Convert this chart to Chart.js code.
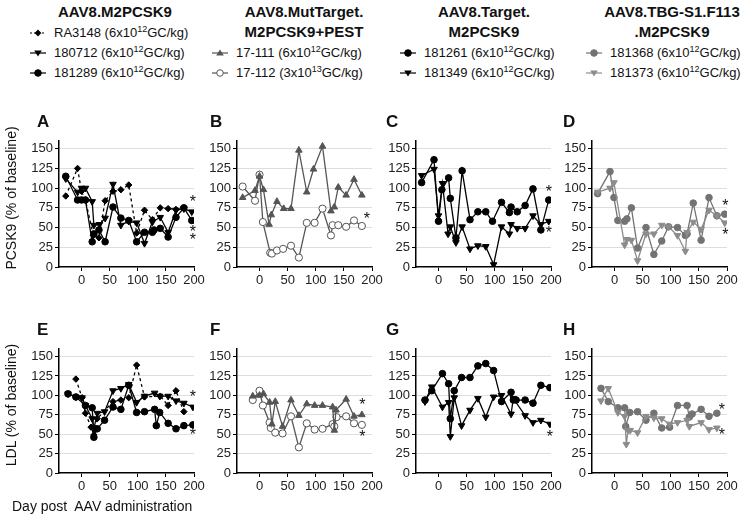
<!DOCTYPE html>
<html>
<head>
<meta charset="utf-8">
<script src="https://cdn.jsdelivr.net/npm/chart.js@4.4.1/dist/chart.umd.min.js"></script>
<style>
  body { margin: 0; background: #fff; font-family: "Liberation Sans", Arial, sans-serif; color: #111; }
  #wrap { position: relative; width: 744px; height: 517px; overflow: hidden; }
  .abs { position: absolute; white-space: nowrap; }
  .title { font-weight: bold; font-size: 15px; text-align: center; line-height: 20px; }
  .letter { font-weight: bold; font-size: 17px; }
  .leg { font-size: 13px; line-height: 16px; display: flex; align-items: center; }
  .leg svg { margin-right: 8px; }
  .leg sup { font-size: 9px; vertical-align: 5px; line-height: 0; }
  .ytitle { font-size: 14px; transform: translate(-50%, -50%) rotate(-90deg); }
  canvas { position: absolute; }
</style>
</head>
<body>
<div id="wrap"></div>
<script>
// ---- tick labels ----
const xTicks = [0, 50, 100, 150, 200];
const yTicks = [0, 25, 50, 75, 100, 125, 150];

// ---- A: AAV8.M2PCSK9, PCSK9 ----
const A_ra3148_x = [-28, -7, 0, 7, 21, 31, 42, 56, 70, 84, 98, 112, 126, 140, 154, 168, 182];
const A_ra3148_y = [90, 125, 96, 85, 40, 37, 84, 96, 98, 104, 43, 72, 60, 75, 74, 73, 75];
const A_180712_x = [-28, -7, 0, 7, 19, 22, 32, 42, 56, 70, 84, 98, 112, 126, 140, 154, 168, 182, 196];
const A_180712_y = [112, 95, 100, 100, 83, 53, 54, 62, 105, 53, 58, 56, 30, 57, 63, 44, 72, 74, 70];
const A_181289_x = [-28, -7, 0, 7, 19, 22, 31, 42, 56, 70, 84, 98, 112, 126, 129, 140, 154, 168, 182, 196];
const A_181289_y = [115, 85, 85, 85, 32, 42, 47, 32, 76, 62, 59, 32, 44, 44, 47, 49, 38, 63, 75, 59];
const A_stars = [[198, 86], [198, 47], [198, 37]];

// ---- B: AAV8.MutTarget.M2PCSK9+PEST, PCSK9 ----
const B_17111_x = [-30, -8, 0, 7, 17, 21, 31, 43, 56, 70, 84, 96, 112, 127, 133, 140, 154, 168, 182];
const B_17111_y = [88, 97, 115, 98, 54, 66, 83, 74, 74, 148, 95, 124, 153, 71, 76, 101, 91, 111, 91];
const B_17112_x = [-30, -8, 0, 6, 19, 22, 31, 42, 56, 70, 84, 98, 112, 127, 130, 140, 154, 168, 182];
const B_17112_y = [102, 84, 117, 57, 18, 17, 21, 23, 27, 12, 56, 56, 74, 40, 53, 53, 51, 59, 52];
const B_stars = [[191, 64]];

// ---- C: AAV8.Target.M2PCSK9, PCSK9 ----
const C_181261_x = [-30, -8, 0, 6, 18, 21, 31, 42, 56, 70, 84, 96, 112, 126, 129, 140, 154, 168, 182, 196];
const C_181261_y = [107, 136, 58, 98, 113, 87, 37, 122, 60, 70, 70, 58, 82, 69, 76, 70, 78, 99, 47, 85];
const C_181349_x = [-30, -8, 0, 7, 17, 21, 31, 42, 56, 70, 84, 98, 112, 126, 129, 140, 154, 168, 182, 196];
const C_181349_y = [116, 124, 65, 106, 42, 51, 31, 51, 23, 27, 26, 3, 51, 42, 54, 49, 49, 65, 54, 58];
const C_stars = [[196, 98], [196, 46]];

// ---- D: AAV8.TBG-S1.F113.M2PCSK9, PCSK9 ----
const D_181368_x = [-30, -8, -1, 6, 18, 22, 30, 41, 56, 70, 84, 96, 112, 126, 129, 140, 154, 168, 182, 196];
const D_181368_y = [93, 121, 88, 59, 58, 61, 75, 24, 50, 16, 33, 51, 50, 40, 42, 81, 34, 88, 65, 67];
const D_181373_x = [-30, -8, -1, 18, 22, 30, 41, 56, 70, 84, 96, 112, 126, 129, 140, 154, 168, 182, 196];
const D_181373_y = [95, 100, 107, 28, 35, 34, 8, 42, 42, 53, 51, 40, 20, 44, 57, 48, 72, 65, 56];
const D_stars = [[197, 81], [197, 43]];

// ---- E: AAV8.M2PCSK9, LDL ----
const E_ra3148_x = [-10, 1, 7, 17, 22, 28, 56, 70, 84, 98, 112, 140, 154, 168, 182];
const E_ra3148_y = [121, 97, 77, 59, 49, 70, 92, 94, 97, 139, 98, 99, 87, 106, 79];
const E_180712_x = [-24, -10, 1, 7, 19, 22, 28, 41, 56, 70, 84, 98, 112, 130, 139, 154, 168, 182, 198];
const E_180712_y = [102, 98, 97, 87, 70, 57, 77, 79, 106, 109, 114, 91, 99, 103, 99, 99, 93, 90, 85];
const E_181289_x = [-24, -10, 7, 19, 22, 28, 41, 56, 70, 84, 98, 112, 130, 133, 139, 154, 168, 182, 198];
const E_181289_y = [102, 98, 87, 84, 46, 57, 68, 85, 82, 113, 78, 79, 82, 61, 78, 64, 57, 61, 62];
const E_stars = [[198, 101], [198, 52]];

// ---- F: AAV8.MutTarget.M2PCSK9+PEST, LDL ----
const F_17111_x = [-12, 0, 7, 18, 22, 28, 41, 56, 70, 84, 98, 112, 130, 133, 136, 154, 168, 182];
const F_17111_y = [99, 100, 102, 91, 63, 92, 60, 94, 74, 89, 87, 87, 85, 55, 81, 95, 73, 75];
const F_17112_x = [-12, 0, 6, 18, 20, 28, 41, 56, 70, 84, 98, 112, 130, 133, 137, 154, 168, 182];
const F_17112_y = [94, 106, 87, 65, 58, 52, 51, 73, 33, 64, 56, 57, 63, 60, 72, 73, 64, 62];
const F_stars = [[183, 91], [183, 50]];

// ---- G: AAV8.Target.M2PCSK9, LDL ----
const G_181261_x = [-24, -12, 7, 18, 21, 28, 41, 56, 70, 84, 98, 112, 129, 133, 138, 154, 168, 182, 198];
const G_181261_y = [94, 106, 128, 115, 70, 106, 123, 123, 138, 141, 132, 92, 104, 94, 94, 94, 90, 113, 110];
const G_181349_x = [-24, -12, 7, 18, 21, 28, 41, 56, 70, 84, 98, 112, 129, 133, 154, 168, 182, 198];
const G_181349_y = [92, 111, 85, 91, 47, 97, 61, 81, 96, 72, 98, 100, 76, 96, 74, 65, 68, 63];
const G_stars = [[198, 49]];

// ---- H: AAV8.TBG-S1.F113.M2PCSK9, LDL ----
const H_181368_x = [-24, -11, 6, 18, 20, 27, 41, 56, 70, 84, 98, 112, 129, 133, 138, 154, 168, 182];
const H_181368_y = [109, 92, 84, 84, 60, 78, 79, 68, 77, 58, 59, 87, 87, 72, 76, 82, 73, 77];
const H_181373_x = [-24, -11, 6, 18, 21, 24, 28, 41, 56, 70, 84, 98, 112, 129, 133, 154, 168, 182];
const H_181373_y = [93, 109, 78, 73, 37, 55, 55, 52, 73, 71, 70, 63, 65, 68, 60, 65, 56, 58];
const H_stars = [[191, 84], [191, 52]];

// marker styles
const STY = {
  diamond:  { color: '#000', point: 'rectRot', rot: 0, r: 3.2, fill: '#000', dash: [3, 3] },
  down:     { color: '#000', point: 'triangle', rot: 180, r: 3.8, fill: '#000', dash: [] },
  circle:   { color: '#000', point: 'circle', rot: 0, r: 3.3, fill: '#000', dash: [] },
  greyUp:   { color: '#555', point: 'triangle', rot: 0, r: 3.8, fill: '#555', dash: [] },
  open:     { color: '#555', point: 'circle', rot: 0, r: 3.6, fill: '#fff', dash: [] },
  lgCircle: { color: '#737373', point: 'circle', rot: 0, r: 3.3, fill: '#737373', dash: [] },
  lgDown:   { color: '#8c8c8c', point: 'triangle', rot: 180, r: 3.8, fill: '#8c8c8c', dash: [] }
};

const FONT = '"Liberation Sans", Arial, sans-serif';
const wrap = document.getElementById('wrap');

function toXY(xs, ys) {
  return xs.map((x, i) => ({ x: x, y: ys[i] }));
}

function ds(xs, ys, s) {
  return {
    data: toXY(xs, ys),
    borderColor: s.color,
    borderWidth: 1.3,
    borderDash: s.dash,
    pointStyle: s.point,
    pointRotation: s.rot,
    pointRadius: s.r,
    pointBackgroundColor: s.fill,
    pointBorderColor: s.color,
    pointBorderWidth: 1,
    tension: 0,
    fill: false
  };
}

// asterisks next to the last points
function starPlugin(list) {
  return {
    id: 'stars',
    afterDatasetsDraw(chart) {
      const c = chart.ctx;
      c.save();
      c.fillStyle = '#111';
      c.font = '16px ' + FONT;
      c.textAlign = 'center';
      c.textBaseline = 'middle';
      list.forEach(p => {
        c.fillText('*', chart.scales.x.getPixelForValue(p[0]), chart.scales.y.getPixelForValue(p[1]) + 3);
      });
      c.restore();
    }
  };
}

function panel(axisX, plotTop, plotBottom, datasets, stars) {
  const padTop = 8, yW = 45, xH = 26, plotW = 135, padR = 16;
  const cv = document.createElement('canvas');
  const w = yW + plotW + padR;
  const h = padTop + (plotBottom - plotTop) + xH;
  cv.width = w; cv.height = h;
  cv.style.left = (axisX - yW) + 'px';
  cv.style.top = (plotTop - padTop) + 'px';
  wrap.appendChild(cv);

  const tickFont = { family: FONT, size: 13 };
  new Chart(cv, {
    type: 'line',
    data: { datasets: datasets },
    options: {
      responsive: false,
      animation: false,
      devicePixelRatio: 1,
      layout: { padding: { top: padTop, right: padR, left: 0, bottom: 0 } },
      plugins: { legend: { display: false }, tooltip: { enabled: false } },
      scales: {
        x: {
          type: 'linear', min: -40, max: 200,
          afterBuildTicks: s => { s.ticks = xTicks.map(v => ({ value: v })); },
          afterFit: s => { s.height = xH; },
          grid: { drawOnChartArea: false, tickLength: 4, tickColor: '#000' },
          border: { color: '#000', width: 1.5 },
          ticks: { font: tickFont, color: '#222', padding: 2, maxRotation: 0, autoSkip: false }
        },
        y: {
          min: 0, max: 160,
          afterBuildTicks: s => { s.ticks = yTicks.map(v => ({ value: v })); },
          afterFit: s => { s.width = yW; },
          grid: {
            color: c => (c.tick && c.tick.value === 0) ? 'rgba(0,0,0,0)' : '#dedede',
            tickLength: 4, tickColor: '#000', lineWidth: 1
          },
          border: { color: '#000', width: 1.5 },
          ticks: { font: tickFont, color: '#222', padding: 2 }
        }
      }
    },
    plugins: [starPlugin(stars)]
  });
}

const cols = [59, 237, 416, 592];
const topT = 138.7, topB = 266.7, botT = 347, botB = 473.3;

panel(cols[0], topT, topB, [ds(A_ra3148_x, A_ra3148_y, STY.diamond), ds(A_180712_x, A_180712_y, STY.down), ds(A_181289_x, A_181289_y, STY.circle)], A_stars);
panel(cols[1], topT, topB, [ds(B_17111_x, B_17111_y, STY.greyUp), ds(B_17112_x, B_17112_y, STY.open)], B_stars);
panel(cols[2], topT, topB, [ds(C_181349_x, C_181349_y, STY.down), ds(C_181261_x, C_181261_y, STY.circle)], C_stars);
panel(cols[3], topT, topB, [ds(D_181373_x, D_181373_y, STY.lgDown), ds(D_181368_x, D_181368_y, STY.lgCircle)], D_stars);
panel(cols[0], botT, botB, [ds(E_ra3148_x, E_ra3148_y, STY.diamond), ds(E_180712_x, E_180712_y, STY.down), ds(E_181289_x, E_181289_y, STY.circle)], E_stars);
panel(cols[1], botT, botB, [ds(F_17111_x, F_17111_y, STY.greyUp), ds(F_17112_x, F_17112_y, STY.open)], F_stars);
panel(cols[2], botT, botB, [ds(G_181349_x, G_181349_y, STY.down), ds(G_181261_x, G_181261_y, STY.circle)], G_stars);
panel(cols[3], botT, botB, [ds(H_181373_x, H_181373_y, STY.lgDown), ds(H_181368_x, H_181368_y, STY.lgCircle)], H_stars);

// ---- text: titles, legends, letters, axis titles ----
function addText(cls, html, left, top, extra) {
  const d = document.createElement('div');
  d.className = 'abs ' + cls;
  d.innerHTML = html;
  d.style.left = left + 'px';
  d.style.top = top + 'px';
  if (extra) Object.assign(d.style, extra);
  wrap.appendChild(d);
  return d;
}

function markerSvg(s) {
  let m = '';
  const c = s.color;
  if (s.point === 'circle') m = `<circle cx="8" cy="6" r="3.3" fill="${s.fill}" stroke="${c}" stroke-width="1"/>`;
  else if (s.point === 'rectRot') m = `<polygon points="8,2.6 11.4,6 8,9.4 4.6,6" fill="${c}"/>`;
  else if (s.rot === 180) m = `<polygon points="4.2,3.5 11.8,3.5 8,9.5" fill="${c}"/>`;
  else m = `<polygon points="4.2,8.5 11.8,8.5 8,2.5" fill="${c}"/>`;
  const dash = s.dash.length ? ' stroke-dasharray="2,2"' : '';
  return `<svg width="16" height="12"><line x1="0" y1="6" x2="16" y2="6" stroke="${c}" stroke-width="1.2"${dash}/>${m}</svg>`;
}

function legend(s, name, dose, left, top) {
  addText('leg', markerSvg(s) + '<span>' + name + dose + '</span>', left, top);
}

const dose6 = ' (6x10<sup>12</sup>GC/kg)';
const dose3 = ' (3x10<sup>13</sup>GC/kg)';

addText('title', 'AAV8.M2PCSK9', 115, 2, { transform: 'translateX(-50%)' });
addText('title', 'AAV8.MutTarget.<br>M2PCSK9+PEST', 304, 2, { transform: 'translateX(-50%)' });
addText('title', 'AAV8.Target.<br>M2PCSK9', 484, 2, { transform: 'translateX(-50%)' });
addText('title', 'AAV8.TBG-S1.F113<br>.M2PCSK9', 672, 2, { transform: 'translateX(-50%)' });

legend(STY.diamond, 'RA3148', dose6, 30, 25);
legend(STY.down, '180712', dose6, 30, 45);
legend(STY.circle, '181289', dose6, 30, 65);
legend(STY.greyUp, '17-111', dose6, 212, 45);
legend(STY.open, '17-112', dose3, 212, 65);
legend(STY.circle, '181261', dose6, 400, 45);
legend(STY.down, '181349', dose6, 400, 65);
legend(STY.lgCircle, '181368', dose6, 586, 45);
legend(STY.lgDown, '181373', dose6, 586, 65);

const letters = [['A', 37, 112], ['B', 210, 112], ['C', 386, 112], ['D', 563, 112],
                 ['E', 37, 320], ['F', 210, 320], ['G', 386, 320], ['H', 563, 320]];
letters.forEach(l => addText('letter', l[0], l[1], l[2]));

addText('ytitle', 'PCSK9 (% of baseline)', 11, 198);
addText('ytitle', 'LDL (% of baseline)', 11, 405);
addText('', 'Day post&nbsp; AAV administration', 12, 498, { fontSize: '14px' });
</script>
</body>
</html>
